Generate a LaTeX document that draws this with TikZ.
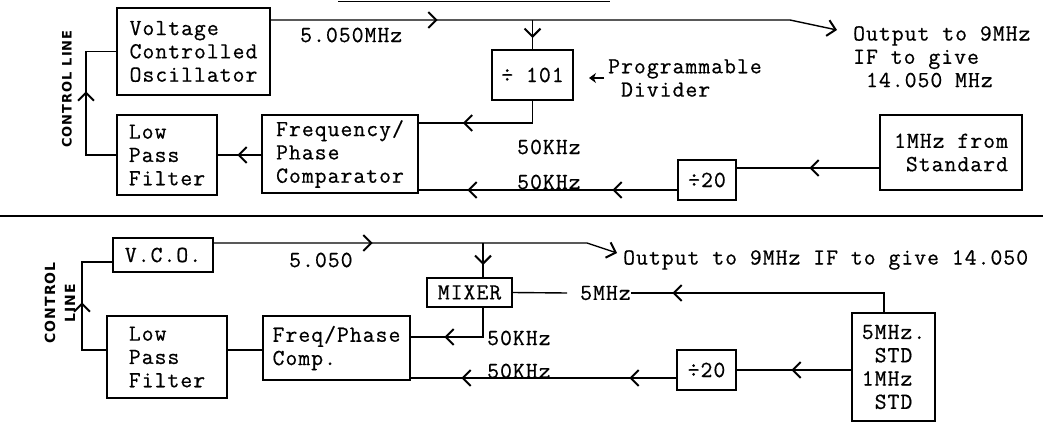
\documentclass[tikz,border=0pt]{standalone}
\usepackage{fontspec}
\setmonofont[LetterSpace=4.5,FakeBold=0.6]{Latin Modern Mono}
\newfontfamily\ctlfont[LetterSpace=8]{DejaVu Sans}
\usetikzlibrary{arrows.meta,decorations.markings}
\newcommand\twfont{\ttfamily\fontsize{23}{23.3}\selectfont}
\tikzset{
  box/.style={draw, line width=1.4pt, inner sep=0pt, align=left, font=\twfont},
  lbl/.style={inner sep=0pt, font=\twfont},
  wire/.style={line width=1.4pt},
  chev/.style={-{Straight Barb[length=8pt,width=16pt,line width=2pt]}},
  arrowat/.style={postaction={decorate, decoration={markings,
      mark=at position #1 with {\arrow{Straight Barb[length=8pt,width=16pt,line width=2pt]}}}}},
  ctl/.style={inner sep=0pt, font=\ctlfont\bfseries\fontsize{13}{14}\selectfont},
}
\begin{document}
\begin{tikzpicture}[x=1pt,y=-1pt]
\useasboundingbox (0,0) rectangle (1064,422);
% ---------- top diagram ----------
\node[box, minimum width=153pt, minimum height=87pt] (vco1) at (193.5,51.5) {Voltage\\Controlled\\Oscillator};
\node[box, minimum width=100pt, minimum height=80pt] (lpf1) at (167,155) {Low\\Pass\\Filter};
\node[box, minimum width=156pt, minimum height=78pt] (fpc1) at (340,154) {Frequency/\\Phase\\Comparator};
\node[box, minimum width=81pt, minimum height=50pt] (div1) at (532.5,75) {÷ 101};
\node[box, minimum width=58pt, minimum height=40pt] (dv1) at (707,180) {÷20};
\node[box, minimum width=142pt, minimum height=75pt, align=right] (std1) at (951,152.5) {1MHz from\\Standard};
\node[lbl, align=left, anchor=north west] (out1) at (853,26) {Output to 9MHz\\IF to give\\~14.050 MHz};
\node[lbl, align=left, anchor=west] (prog) at (608,78) {Programmable\\~Divider};
\node[lbl, anchor=west] (f1) at (300,35) {5.050MHz};
\node[lbl, anchor=west] (k1) at (517,147) {50KHz};
\node[lbl, anchor=west] (k2) at (517,182) {50KHz};
\node[ctl, rotate=90] (ctl1) at (67,89) {CONTROL LINE};

\coordinate (t1) at (790,20);
\coordinate (o1) at (837,30);
\draw[wire, chev, arrowat=167pt] (vco1.east |- t1) -- (t1) -- (o1);
\draw[wire, arrowat=18pt] (div1.north |- t1) -- (div1.north);
\coordinate (d1) at (0,123);
\draw[wire, arrowat=92pt] (div1.south) -- (div1.south |- d1) -- (fpc1.east |- d1);
\coordinate (e1) at (0,190);
\draw[wire, arrowat=65pt, arrowat=210pt] (dv1.west |- e1) -- (fpc1.east |- e1);
\draw[wire, arrowat=70pt] (std1.west |- 0,168) -- (dv1.east |- 0,168);
\draw[wire, arrowat=24pt] (fpc1.west |- lpf1.west) -- (lpf1.east);
\coordinate (c1) at (86,0);
\draw[wire, arrowat=94pt] (lpf1.west) -- (c1 |- lpf1.west) -- (c1 |- vco1.west) -- (vco1.west);
\draw[line width=1.8pt, -{Stealth[length=7pt,width=10pt]}] ([xshift=-4pt]prog.west) -- ++(-15,0);

% separators
\draw[wire] (0,216) -- (1043,216);
\draw[line width=1pt] (338,1.2) -- (610,1.2);

% ---------- bottom diagram ----------
\node[box, minimum width=100pt, minimum height=34pt] (vco2) at (163,255) {V.C.O.};
\node[box, minimum width=120pt, minimum height=82pt] (lpf2) at (167,357) {Low\\Pass\\Filter};
\node[box, minimum width=147pt, minimum height=64pt] (fpc2) at (336.5,348) {Freq/Phase\\Comp.};
\node[box, minimum width=85pt, minimum height=29pt] (mix) at (469.5,292.5) {MIXER};
\node[box, minimum width=59pt, minimum height=40pt] (dv2) at (706.5,370) {÷20};
\node[box, minimum width=83pt, minimum height=108pt] (std2) at (893.5,367) {5MHz.\\~STD\\1MHz\\~STD};
\node[lbl, anchor=west] (out2) at (623,260) {Output to 9MHz IF to give 14.050};
\node[lbl, anchor=west] (f2) at (289,260) {5.050};
\node[lbl, anchor=west] (k3) at (487,338) {50KHz};
\node[lbl, anchor=west] (k4) at (487,371) {50KHz};
\node[lbl, anchor=west] (m5) at (580,293) {5MHz};
\node[ctl, rotate=90, align=center, font=\ctlfont\bfseries\fontsize{14}{20}\selectfont] (ctl2) at (60,303) {CONTROL\\LINE};

\coordinate (t2) at (587,243);
\coordinate (o2) at (617,253);
\draw[wire, chev, arrowat=159pt] (vco2.east |- t2) -- (t2) -- (o2);
\coordinate (b2) at (483,243);
\draw[wire, arrowat=22pt] (b2) -- (b2 |- mix.north);
\coordinate (s2) at (884,293);
\draw[wire, arrowat=231pt] (s2 |- std2.north) -- (s2) -- (m5.east);
\draw[wire] ([xshift=-13pt]m5.west) -- (mix.east);
\coordinate (m2) at (483,337);
\draw[wire, arrowat=68pt] (b2 |- mix.south) -- (m2) -- (m2 -| fpc2.east);
\coordinate (d2) at (0,378);
\draw[wire, arrowat=47pt, arrowat=215pt] (dv2.west |- d2) -- (fpc2.east |- d2);
\draw[wire, arrowat=60pt] (std2.west |- dv2.east) -- (dv2.east);
\coordinate (q2) at (0,350);
\draw[wire] (lpf2.east |- q2) -- (fpc2.west |- q2);
\coordinate (c2) at (82,0);
\coordinate (v2) at (0,262);
\draw[wire, arrowat=72pt] (lpf2.west |- q2) -- (c2 |- q2) -- (c2 |- v2) -- (vco2.west |- v2);
\end{tikzpicture}
\end{document}
